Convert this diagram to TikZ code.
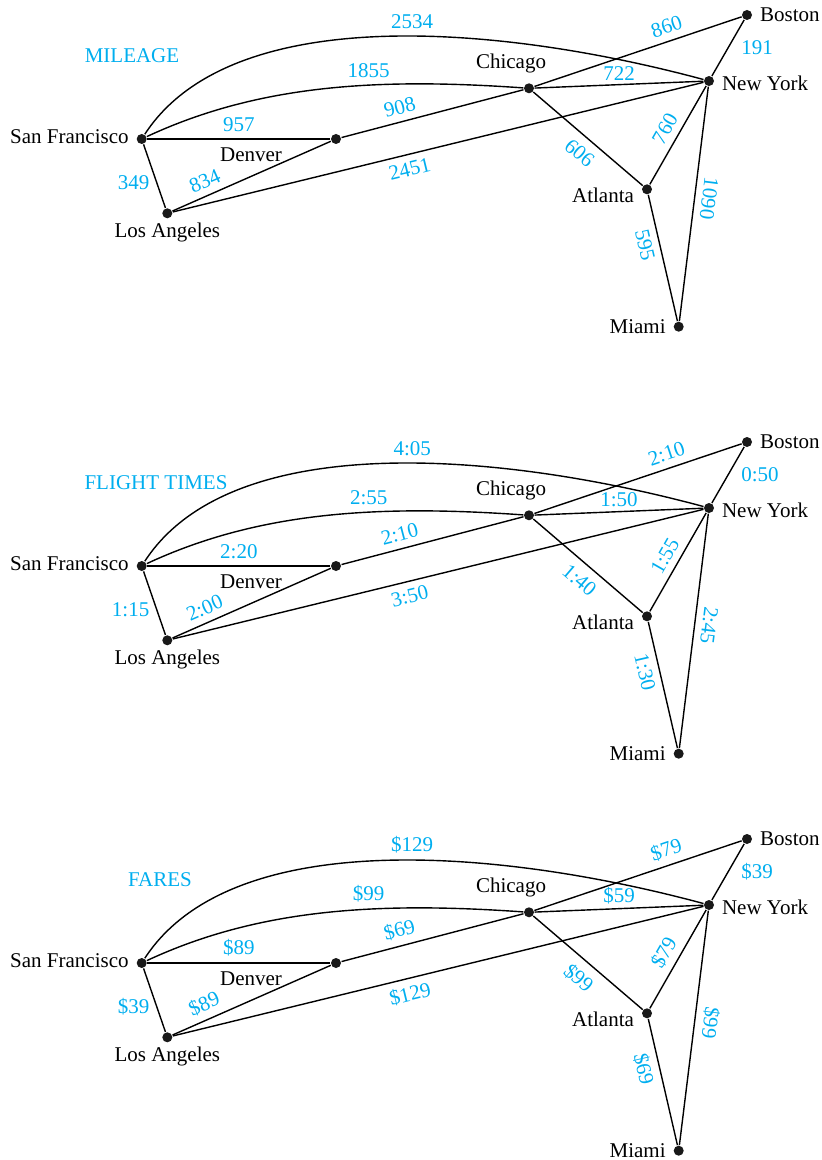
\documentclass[tikz,border=0pt]{standalone}
\usepackage{fontspec}
\setmainfont{Liberation Serif}

\definecolor{wCyan}{RGB}{0,174,239}

\begin{document}
\begin{tikzpicture}[x=0.5pt, y=0.5pt, line width=0.7pt,
  font=\fontsize{10.5}{12.6}\selectfont,
  city/.style={circle, fill=black!90, inner sep=0pt, minimum size=5pt},
  w/.style={text=wCyan}]

  \useasboundingbox (0,0) rectangle (822,-1160);

  \foreach \p/\dy/\head/\tx/\sfny/\sfchi/\sfden/\sfla/\laden/\denchi/\lany/\chibos/\chiny/\nybos/\chiatl/\atlny/\nymia/\atlmia in {
    m/0/MILEAGE/132/2534/1855/957/349/834/908/2451/860/722/191/606/760/1090/595,
    t/427/FLIGHT TIMES/156/4:05/2:55/2:20/1:15/2:00/2:10/3:50/2:10/1:50/0:50/1:40/1:55/2:45/1:30,
    f/824/FARES/160/\$129/\$99/\$89/\$39/\$89/\$69/\$129/\$79/\$59/\$39/\$99/\$79/\$99/\$69}
  {
  \begin{scope}[shift={(0,-\dy)}]
    % ---- cities ----
    \node[city, label={[yshift=1.1pt]left:San Francisco}] (\p-sf) at (141.7,-139) {};
    \node[city, label={[yshift=1.8pt]below:Los Angeles}] (\p-la) at (167.3,-213.3) {};
    \node[city, label={[xshift=-42.5pt, yshift=2.3pt]below:Denver}] (\p-den) at (336,-139) {};
    \node[city, label={[xshift=-9pt, yshift=0.9pt]above:Chicago}] (\p-chi) at (529,-88.3) {};
    \node[city, label=right:Boston] (\p-bos) at (747,-15) {};
    \node[city, label={[yshift=-1.4pt]right:New York}] (\p-ny) at (709,-81) {};
    \node[city, label={[yshift=-2.8pt]left:Atlanta}] (\p-atl) at (647,-189.3) {};
    \node[city, label=left:Miami] (\p-mia) at (678.7,-326.7) {};

    % ---- title ----
    \node[w] (\p-head) at (\tx,-55.5) {\head};

    % ---- routes ----
    \draw (\p-sf) .. controls +(89.9,138) and +(-208,56) .. node[w, above, pos=0.55] {\sfny} (\p-ny);
    \draw (\p-sf) .. controls +(117.8,54.9) and +(-149.6,10.5) .. node[w, above, pos=0.62] {\sfchi} (\p-chi);
    \draw (\p-sf) -- node[w, above] {\sfden} (\p-den);
    \draw (\p-sf) -- node[w, left, pos=0.6] {\sfla} (\p-la);
    \draw (\p-la) -- node[w, sloped, above, pos=0.24] {\laden} (\p-den);
    \draw (\p-den) -- node[w, sloped, above, pos=0.34] {\denchi} (\p-chi);
    \draw (\p-la) -- node[w, sloped, below, pos=0.44] {\lany} (\p-ny);
    \draw (\p-chi) -- node[w, sloped, above, pos=0.66] {\chibos} (\p-bos);
    \draw (\p-chi) -- node[w, above=-1.5pt] {\chiny} (\p-ny);
    \draw (\p-ny) -- node[w, right=3pt] {\nybos} (\p-bos);
    \draw (\p-chi) -- node[w, sloped, below=1pt, pos=0.52] {\chiatl} (\p-atl);
    \draw (\p-atl) -- node[w, sloped, above, pos=0.49] {\atlny} (\p-ny);
    \draw (\p-ny) -- node[w, sloped, allow upside down, above, pos=0.47] {\nymia} (\p-mia);
    \draw (\p-atl) -- node[w, sloped, below, pos=0.37] {\atlmia} (\p-mia);
  \end{scope}
  }

\end{tikzpicture}
\end{document}
